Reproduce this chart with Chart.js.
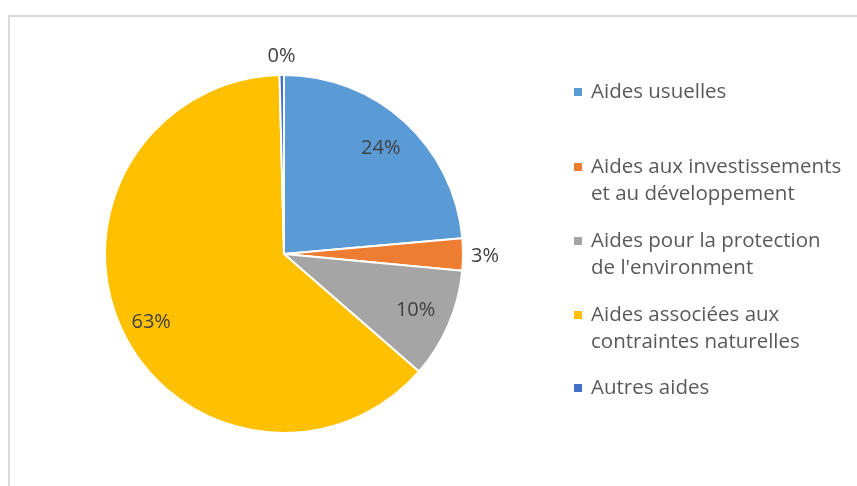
<!DOCTYPE html>
<html>
<head>
<meta charset="utf-8">
<script src="https://cdn.jsdelivr.net/npm/chart.js@4/dist/chart.umd.min.js"></script>
<style>
  html, body { margin: 0; padding: 0; background: #fff; overflow: hidden; }
  #wrap { position: relative; width: 857px; height: 486px; }
  #frame { position: absolute; left: 8px; top: 15px; width: 900px; height: 500px;
           border-left: 2px solid #d9d9d9; border-top: 2px solid #d9d9d9; box-sizing: border-box; }
  canvas { position: absolute; left: 0; top: 0; }
</style>
</head>
<body>
<div id="wrap">
  <div id="frame"></div>
  <canvas id="c" width="857" height="486"></canvas>
</div>
<script>
// Répartition des aides (%)
const categories = [
  ["Aides usuelles"],
  ["Aides aux investissements", "et au développement"],
  ["Aides pour la protection", "de l'environment"],
  ["Aides associées aux", "contraintes naturelles"],
  ["Autres aides"]
];
const values = [23.6, 2.9, 9.9, 63.2, 0.4];
const colors = ["#5B9BD5", "#ED7D31", "#A5A5A5", "#FFC000", "#4472C4"];

// label placement: inside slices at a share of the radius, small slices outside
const labelStyle = [
  { outside: false, ratio: 0.80, dy: 0 },
  { outside: true,  gap: 22,     dy: 2 },
  { outside: false, ratio: 0.80, dy: 0 },
  { outside: false, ratio: 0.82, dy: 6 },
  { outside: true,  gap: 20,     dy: 1 }
];

const FONT = "'Open Sans', Lato, sans-serif";

// Percentage labels on / beside each slice
const sliceLabels = {
  id: 'sliceLabels',
  afterDatasetsDraw(chart) {
    const ctx = chart.ctx;
    const meta = chart.getDatasetMeta(0);
    const total = values.reduce((a, b) => a + b, 0);
    ctx.save();
    ctx.font = "20px " + FONT;
    ctx.fillStyle = "#404040";
    ctx.textAlign = "center";
    ctx.textBaseline = "middle";
    meta.data.forEach((arc, i) => {
      const { x, y, startAngle, endAngle, outerRadius } = arc.getProps(['x', 'y', 'startAngle', 'endAngle', 'outerRadius'], true);
      const mid = (startAngle + endAngle) / 2;
      const s = labelStyle[i];
      const r = s.outside ? outerRadius + s.gap : outerRadius * s.ratio;
      ctx.fillText(Math.round(values[i] / total * 100) + "%",
        x + Math.cos(mid) * r, y + Math.sin(mid) * r + s.dy);
    });
    ctx.restore();
  }
};

// Legend on the right, with wrapped labels
const sideLegend = {
  id: 'sideLegend',
  afterDraw(chart) {
    const ctx = chart.ctx;
    const x0 = 574, tx = 591, lineH = 27;
    const firstLineY = [92, 167, 241, 315, 388];
    ctx.save();
    ctx.font = "20.5px " + FONT;
    ctx.textBaseline = "middle";
    categories.forEach((lines, i) => {
      ctx.fillStyle = colors[i];
      ctx.fillRect(x0, firstLineY[i] - 4, 8, 8);
      ctx.fillStyle = "#595959";
      lines.forEach((t, k) => ctx.fillText(t, tx, firstLineY[i] + k * lineH));
    });
    ctx.restore();
  }
};

new Chart(document.getElementById('c'), {
  type: 'pie',
  data: {
    labels: categories.map(l => l.join(' ')),
    datasets: [{
      data: values,
      backgroundColor: colors,
      borderColor: '#ffffff',
      borderWidth: 2,
      hoverBorderWidth: 2,
      hoverOffset: 0
    }]
  },
  options: {
    responsive: false,
    animation: false,
    events: [],
    layout: { padding: { left: 104, right: 393, top: 74, bottom: 52 } },
    plugins: {
      legend: { display: false },
      tooltip: { enabled: false }
    }
  },
  plugins: [sliceLabels, sideLegend]
});
</script>
</body>
</html>
